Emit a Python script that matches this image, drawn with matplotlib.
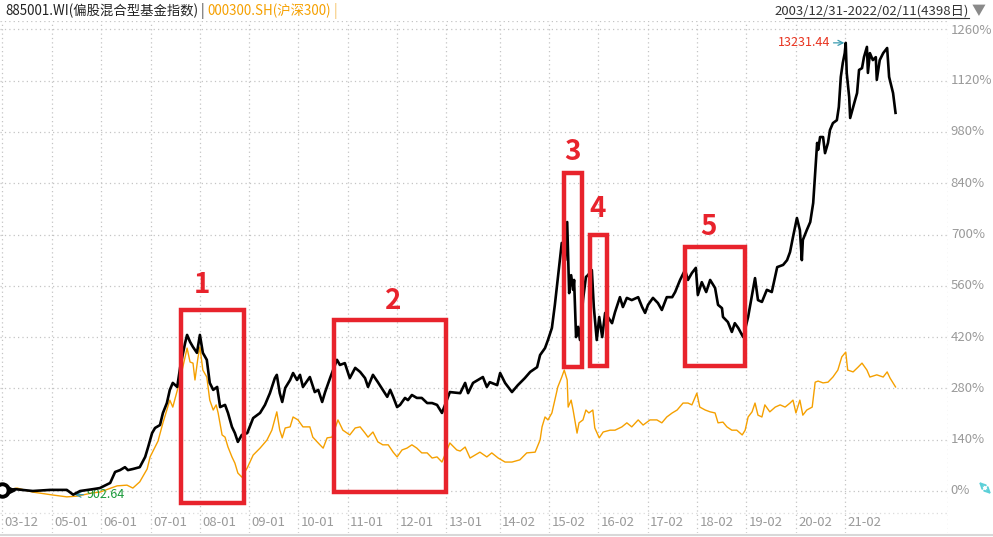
import matplotlib
matplotlib.use('Agg')
import matplotlib.pyplot as plt
from matplotlib.patches import Rectangle, FancyArrowPatch
from matplotlib.lines import Line2D

plt.rcParams['font.family'] = ['Noto Sans CJK SC', 'DejaVu Sans']

# 885001.WI 偏股混合型基金指数, 累计涨幅 %
fund_t = [2004.00, 2004.25, 2004.61, 2004.96, 2005.30, 2005.43, 2005.57, 2005.83, 2005.97, 2006.18,
          2006.28, 2006.38, 2006.48, 2006.54, 2006.64, 2006.78, 2006.89, 2006.95, 2007.03, 2007.09,
          2007.19, 2007.25, 2007.33, 2007.39, 2007.45, 2007.54, 2007.60, 2007.70, 2007.74, 2007.80,
          2007.86, 2007.94, 2008.00, 2008.06, 2008.14, 2008.20, 2008.27, 2008.35, 2008.41, 2008.51,
          2008.57, 2008.65, 2008.71, 2008.77, 2008.85, 2008.96, 2009.08, 2009.22, 2009.32, 2009.42,
          2009.52, 2009.56, 2009.62, 2009.67, 2009.73, 2009.83, 2009.89, 2009.97, 2010.03, 2010.09,
          2010.23, 2010.33, 2010.40, 2010.48, 2010.54, 2010.64, 2010.78, 2010.84, 2010.94, 2011.04,
          2011.15, 2011.25, 2011.35, 2011.41, 2011.51, 2011.61, 2011.71, 2011.80, 2011.86, 2011.92,
          2012.00, 2012.06, 2012.16, 2012.22, 2012.30, 2012.40, 2012.50, 2012.61, 2012.71, 2012.81,
          2012.91, 2013.07, 2013.28, 2013.38, 2013.44, 2013.54, 2013.74, 2013.82, 2013.88, 2014.03,
          2014.09, 2014.19, 2014.33, 2014.45, 2014.59, 2014.70, 2014.84, 2014.90, 2015.00, 2015.06,
          2015.14, 2015.20, 2015.26, 2015.34, 2015.41, 2015.45, 2015.49, 2015.53, 2015.57, 2015.59,
          2015.63, 2015.67, 2015.71, 2015.77, 2015.83, 2015.87, 2015.95, 2015.99, 2016.05, 2016.10,
          2016.16, 2016.22, 2016.36, 2016.42, 2016.52, 2016.58, 2016.66, 2016.76, 2016.89, 2016.97,
          2017.03, 2017.09, 2017.19, 2017.29, 2017.37, 2017.47, 2017.58, 2017.64, 2017.74, 2017.84,
          2017.90, 2017.98, 2018.06, 2018.10, 2018.18, 2018.27, 2018.35, 2018.45, 2018.51, 2018.59,
          2018.61, 2018.71, 2018.79, 2018.85, 2018.92, 2019.02, 2019.12, 2019.20, 2019.26, 2019.32,
          2019.40, 2019.50, 2019.60, 2019.71, 2019.83, 2019.91, 2019.97, 2020.03, 2020.11, 2020.17,
          2020.21, 2020.23, 2020.31, 2020.38, 2020.44, 2020.48, 2020.52, 2020.54, 2020.58, 2020.64,
          2020.68, 2020.74, 2020.78, 2020.84, 2020.92, 2020.96, 2021.00, 2021.04, 2021.08, 2021.10,
          2021.12, 2021.17, 2021.19, 2021.25, 2021.29, 2021.33, 2021.37, 2021.43, 2021.47, 2021.53,
          2021.55, 2021.59, 2021.65, 2021.71, 2021.73, 2021.79, 2021.86, 2021.94, 2021.98, 2022.02,
          2022.06, 2022.11]
fund_v = [0, 5, 0, 3, 3, -10, 0, 5, 8, 22,
          52, 57, 65, 57, 60, 65, 93, 120, 158, 172,
          180, 213, 240, 276, 295, 284, 338, 404, 426, 407,
          393, 377, 426, 377, 358, 295, 276, 284, 229, 235,
          213, 175, 158, 134, 153, 158, 199, 213, 235, 267,
          308, 317, 267, 243, 281, 303, 322, 303, 317, 284,
          311, 270, 276, 243, 270, 308, 358, 344, 349, 308,
          336, 325, 308, 284, 317, 297, 276, 257, 276, 257,
          229, 235, 254, 248, 262, 254, 254, 240, 240, 235,
          213, 270, 267, 295, 267, 295, 311, 284, 297, 289,
          322, 295, 270, 289, 308, 325, 338, 371, 390, 412,
          445, 508, 581, 677, 630, 734, 540, 589, 549, 576,
          420, 448, 412, 521, 584, 589, 603, 502, 412, 475,
          420, 486, 458, 488, 529, 502, 527, 521, 529, 502,
          486, 508, 527, 513, 494, 529, 529, 543, 576, 603,
          576, 595, 609, 535, 570, 543, 576, 554, 508, 499,
          475, 461, 434, 458, 445, 420, 475, 535, 581, 521,
          516, 549, 543, 611, 617, 630, 652, 693, 745, 712,
          630, 685, 712, 734, 786, 868, 950, 931, 966, 966,
          922, 950, 985, 1004, 1012, 1048, 1130, 1168, 1195, 1223,
          1141, 1075, 1018, 1048, 1067, 1086, 1149, 1154, 1184, 1212,
          1141, 1195, 1176, 1184, 1122, 1176, 1195, 1209, 1130, 1108,
          1086, 1032]

# 000300.SH 沪深300, 累计涨幅 %
hs_t = [2004.00, 2004.29, 2004.61, 2005.02, 2005.30, 2005.51, 2005.83, 2005.97, 2006.32, 2006.52,
        2006.64, 2006.78, 2006.93, 2006.99, 2007.05, 2007.15, 2007.25, 2007.33, 2007.39, 2007.45,
        2007.56, 2007.64, 2007.70, 2007.74, 2007.80, 2007.86, 2007.90, 2007.96, 2008.00, 2008.06,
        2008.14, 2008.20, 2008.27, 2008.33, 2008.37, 2008.45, 2008.51, 2008.57, 2008.65, 2008.71,
        2008.77, 2008.85, 2008.96, 2009.08, 2009.22, 2009.36, 2009.46, 2009.56, 2009.62, 2009.67,
        2009.73, 2009.83, 2009.89, 2009.99, 2010.09, 2010.23, 2010.29, 2010.40, 2010.50, 2010.58,
        2010.68, 2010.80, 2010.90, 2011.04, 2011.15, 2011.25, 2011.35, 2011.41, 2011.51, 2011.61,
        2011.71, 2011.82, 2011.92, 2012.00, 2012.10, 2012.20, 2012.30, 2012.40, 2012.50, 2012.61,
        2012.71, 2012.81, 2012.91, 2013.07, 2013.21, 2013.28, 2013.38, 2013.48, 2013.68, 2013.82,
        2013.92, 2014.05, 2014.19, 2014.33, 2014.49, 2014.63, 2014.80, 2014.90, 2014.94, 2015.00,
        2015.06, 2015.14, 2015.20, 2015.26, 2015.34, 2015.39, 2015.45, 2015.47, 2015.53, 2015.57,
        2015.65, 2015.69, 2015.77, 2015.83, 2015.89, 2015.97, 2016.01, 2016.10, 2016.18, 2016.32,
        2016.42, 2016.56, 2016.66, 2016.76, 2016.89, 2016.99, 2017.13, 2017.27, 2017.37, 2017.47,
        2017.58, 2017.68, 2017.80, 2017.90, 2017.98, 2018.08, 2018.14, 2018.25, 2018.35, 2018.45,
        2018.51, 2018.61, 2018.69, 2018.79, 2018.89, 2019.00, 2019.06, 2019.12, 2019.20, 2019.26,
        2019.32, 2019.40, 2019.46, 2019.56, 2019.67, 2019.77, 2019.87, 2019.97, 2020.03, 2020.09,
        2020.17, 2020.23, 2020.31, 2020.42, 2020.48, 2020.54, 2020.64, 2020.74, 2020.84, 2020.94,
        2021.02, 2021.10, 2021.14, 2021.25, 2021.35, 2021.43, 2021.53, 2021.59, 2021.73, 2021.86,
        2021.94, 2022.00, 2022.11]
hs_v = [0, 8, -3, -11, -16, -14, -5, -3, 14, 16,
        8, 25, 60, 93, 109, 136, 186, 221, 248, 229,
        284, 330, 366, 390, 352, 349, 303, 363, 393, 330,
        311, 248, 221, 235, 213, 153, 147, 120, 93, 76,
        49, 38, 63, 98, 117, 139, 166, 216, 166, 145,
        172, 175, 202, 194, 175, 175, 147, 131, 117, 145,
        147, 194, 166, 153, 172, 175, 158, 147, 161, 134,
        126, 126, 106, 93, 112, 117, 126, 117, 104, 104,
        90, 93, 79, 131, 112, 109, 120, 90, 106, 93,
        104, 90, 79, 79, 85, 104, 106, 139, 175, 202,
        194, 213, 248, 284, 311, 330, 303, 229, 248, 221,
        158, 186, 194, 221, 213, 221, 172, 145, 161, 166,
        166, 175, 186, 175, 194, 180, 194, 194, 186, 202,
        213, 221, 240, 240, 235, 267, 229, 221, 216, 213,
        186, 188, 175, 166, 166, 153, 166, 202, 216, 240,
        207, 202, 235, 216, 229, 235, 229, 240, 248, 213,
        248, 207, 221, 229, 297, 300, 295, 297, 311, 330,
        366, 379, 330, 325, 338, 349, 330, 311, 317, 311,
        325, 308, 284]

tick_t = [2003.99, 2005.0, 2006.0, 2007.0, 2008.0, 2009.0, 2010.0, 2011.0, 2012.0, 2013.0,
          2014.083, 2015.083, 2016.083, 2017.083, 2018.083, 2019.083, 2020.083, 2021.083]
tick_labels = ['03-12', '05-01', '06-01', '07-01', '08-01', '09-01', '10-01', '11-01', '12-01', '13-01',
               '14-02', '15-02', '16-02', '17-02', '18-02', '19-02', '20-02', '21-02']
y_ticks = [0, 140, 280, 420, 560, 700, 840, 980, 1120, 1260]

W, H = 993, 537


def px(x, y):
    # 参考图像素 -> 数据坐标 (仅用于标注框位置)
    return 2005 + (x - 52) / 49.3, (491 - y) * 140 / 51.3


fig = plt.figure(figsize=(W / 100, H / 100), dpi=100)
ax = fig.add_axes([0, 1 - 533 / H, 948 / W, (533 - 21) / H])
x0, _ = px(0, 0)
x1, _ = px(948, 0)
_, ybot = px(0, 533)
_, ytop = px(0, 21)
ax.set_xlim(x0, x1)
ax.set_ylim(ybot, ytop)
for s in ax.spines.values():
    s.set_visible(False)
ax.set_xticks([])
ax.set_yticks([])

grid_kw = dict(color='#c4c4c4', lw=0.9, ls=(0, (1, 2.5)), zorder=0)
for v in y_ticks:
    ax.axhline(v, **grid_kw)
ax.axhline(ytop, **grid_kw)
ax.axhline(px(0, 513)[1], color='#dcdcdc', lw=0.9, ls=(0, (1, 2.5)), zorder=0)
for t in tick_t:
    ax.axvline(t, **grid_kw)
ax.axvline(x1, **grid_kw)

ytr = ax.get_yaxis_transform()
for v in y_ticks:
    yy = v if v < 1260 else px(0, 30)[1]
    ax.text(1.003, yy, f'{v}%', transform=ytr, ha='left', va='center',
            fontsize=9.5, color='#9a9a9a', clip_on=False)
ylab = px(0, 522)[1]
for t, lab in zip(tick_t, tick_labels):
    ax.text(t + 0.05, ylab, lab, ha='left', va='center', fontsize=9.5, color='#9a9a9a')

ax.plot(hs_t, hs_v, color='#f5a000', lw=1.0, zorder=3)
ax.plot(fund_t, fund_v, color='black', lw=1.9, zorder=4)

# 最高/最低点标注
pk = max(range(len(fund_v)), key=lambda i: fund_v[i])
mn = min(range(len(fund_v)), key=lambda i: fund_v[i])
ax.annotate('13231.44', xy=(fund_t[pk], fund_v[pk]), xytext=(-15, 0), textcoords='offset pixels',
            ha='right', va='center', fontsize=9, color='#e8321e',
            arrowprops=dict(arrowstyle='->', color='#3a9bb0', lw=0.9, shrinkA=0, shrinkB=1))
ax.annotate('902.64', xy=(fund_t[mn], fund_v[mn]), xytext=(13, 0), textcoords='offset pixels',
            ha='left', va='center', fontsize=9, color='#1a9a3a',
            arrowprops=dict(arrowstyle='->', color='#3a9bb0', lw=0.9, shrinkA=0, shrinkB=1))

# 红色标注框
red = '#e8232c'
boxes = [((181, 310), (244, 503), '1', (202, 285)),
         ((334, 320), (446, 492), '2', (393, 301)),
         ((564, 173), (582, 367), '3', (572, 152)),
         ((590, 235), (607, 366), '4', (598, 209)),
         ((685, 247), (745, 366), '5', (708, 227))]
for (ax_, ay_), (bx_, by_), num, (lx, ly) in boxes:
    xa, ya = px(ax_, by_)
    xb, yb = px(bx_, ay_)
    ax.add_patch(Rectangle((xa, ya), xb - xa, yb - ya, fill=False, ec=red, lw=3.2, zorder=6))
    ax.text(*px(lx, ly), num, ha='center', va='center', fontsize=20, fontweight='bold',
            color=red, zorder=6)

# 标题 (依次排开)
ty = 1 - 11 / H
renderer = fig.canvas.get_renderer()
cur = 5
for s, c in [('885001.WI(偏股混合型基金指数)', '#222222'), (' | ', '#444444'),
             ('000300.SH(沪深300)', '#f5a000'), (' |', '#f5c060')]:
    t = fig.text(cur / W, ty, s, fontsize=9.6, color=c, va='center')
    cur = t.get_window_extent(renderer).x1
fig.text(969 / W, ty, '2003/12/31-2022/02/11(4398日)', fontsize=9.5, color='#333333',
         va='center', ha='right')
fig.add_artist(Line2D([785 / W, 969 / W], [1 - 18 / H, 1 - 18 / H], color='#333333', lw=0.8))
fig.text(979 / W, ty, '▼', fontsize=10, color='#8a8a8a', va='center', ha='center')

# 底边
fig.add_artist(Line2D([0, 1], [1 - 535 / H, 1 - 535 / H], color='#d8d8d8', lw=1.5))

# 左侧小图标
fig.add_artist(Line2D([2], [H - 490], marker='o', ms=9, mfc='white', mec='black', mew=2.8,
                      transform=None))
fig.add_artist(Line2D([11], [H - 490], marker='>', ms=6, color='black', transform=None))

# 右下角缩放图标
for dx, dy in [(-8, -8), (8, 8)]:
    fig.add_artist(FancyArrowPatch(
        (985, H - 488), (985 + dx, H - 488 - dy), arrowstyle='->', mutation_scale=9,
        color='#5cd0d8', lw=1.4, transform=None))

fig.savefig('out.png', dpi=100)
